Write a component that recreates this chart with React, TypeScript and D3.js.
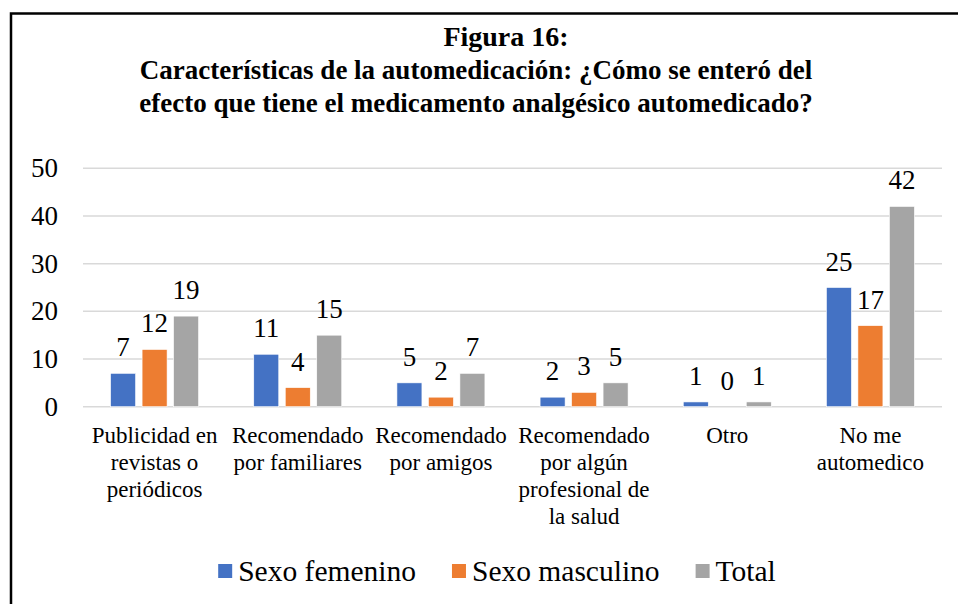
import * as d3 from 'd3';
import React, { useEffect, useRef } from "react";

const categories = [
    'Publicidad en\nrevistas o\nperiódicos',
    'Recomendado\npor familiares',
    'Recomendado\npor amigos',
    'Recomendado\npor algún\nprofesional de\nla salud',
    'Otro',
    'No me\nautomedico',
];
const seriesNames = ['Sexo femenino', 'Sexo masculino', 'Total'];
const femenino = [7, 11, 5, 2, 1, 25];
const masculino = [12, 4, 2, 3, 0, 17];
const total = [19, 15, 7, 5, 1, 42];
const yTicks = [0, 10, 20, 30, 40, 50];
const titleLines = [
    'Figura 16:',
    'Características de la automedicación: ¿Cómo se enteró del',
    'efecto que tiene el medicamento analgésico automedicado?',
];
const colors = ['#4472C4', '#ED7D31', '#A5A5A5'];

const FONT = "Liberation Serif, DejaVu Serif, serif";

const App: React.FC = () => {
    const ref = useRef<SVGSVGElement>(null);

    useEffect(() => {
        if (!ref.current) return;
        const width = 958;
        const height = 604;
        const svg = d3.select(ref.current)
            .attr('width', width)
            .attr('height', height);
        svg.selectAll('*').remove();

        svg.append('rect').attr('width', width).attr('height', height).attr('fill', '#fff');

        // chart border (top + left, the rest is cropped)
        svg.append('path')
            .attr('d', `M11,${height} V13.5 H${width}`)
            .attr('fill', 'none')
            .attr('stroke', '#000')
            .attr('stroke-width', 2.5);

        // title
        const titleX = [506, 476, 476];
        const titleSize = [28, 27, 27];
        svg.append('g').selectAll('text')
            .data(titleLines)
            .enter()
            .append('text')
            .attr('x', (d, i) => titleX[i])
            .attr('y', (d, i) => 46 + i * 33)
            .attr('text-anchor', 'middle')
            .attr('font-size', (d, i) => titleSize[i])
            .attr('font-weight', 'bold')
            .text(d => d);

        const values = [femenino, masculino, total];
        const left = 83, right = 942, top = 168.3, bottom = 406.7;

        const x0 = d3.scaleBand<number>()
            .domain(d3.range(categories.length))
            .range([left, right])
            .padding(0);
        const x1 = d3.scaleBand<number>()
            .domain(d3.range(seriesNames.length))
            .range([0, x0.bandwidth()])
            .paddingInner(0.206)
            .paddingOuter(0.876);
        const y = d3.scaleLinear().domain([0, 50]).range([bottom, top]);

        // gridlines
        svg.append('g').selectAll('line')
            .data(yTicks)
            .enter()
            .append('line')
            .attr('x1', left)
            .attr('x2', right)
            .attr('y1', d => y(d))
            .attr('y2', d => y(d))
            .attr('stroke', '#D9D9D9')
            .attr('stroke-width', 1.5);

        // y tick labels
        svg.append('g').selectAll('text')
            .data(yTicks)
            .enter()
            .append('text')
            .attr('x', 58)
            .attr('y', d => y(d) + 9)
            .attr('text-anchor', 'end')
            .attr('font-size', 27)
            .text(d => d);

        // bars + labels
        values.forEach((vals, s) => {
            const g = svg.append('g');
            g.selectAll('rect')
                .data(vals)
                .enter()
                .append('rect')
                .attr('x', (d, i) => x0(i)! + x1(s)!)
                .attr('y', d => y(d))
                .attr('width', x1.bandwidth())
                .attr('height', d => bottom - y(d))
                .attr('fill', colors[s])
                .attr('stroke', '#fff')
                .attr('stroke-width', 0.6);
            g.selectAll('text')
                .data(vals)
                .enter()
                .append('text')
                .attr('x', (d, i) => x0(i)! + x1(s)! + x1.bandwidth() / 2)
                .attr('y', d => y(d) - 17)
                .attr('text-anchor', 'middle')
                .attr('font-size', 27)
                .text(d => d);
        });

        // category labels
        const cat = svg.append('g').selectAll('text')
            .data(categories)
            .enter()
            .append('text')
            .attr('text-anchor', 'middle')
            .attr('font-size', 23);
        cat.each(function (d, i) {
            const t = d3.select(this);
            d.split('\n').forEach((line, j) => {
                t.append('tspan')
                    .attr('x', x0(i)! + x0.bandwidth() / 2)
                    .attr('y', 443 + j * 27)
                    .text(line);
            });
        });

        // legend
        const legend = svg.append('g');
        const items = legend.selectAll('g')
            .data(seriesNames)
            .enter()
            .append('g');
        items.append('rect')
            .attr('width', 14)
            .attr('height', 14)
            .attr('y', 564)
            .attr('fill', (d, i) => colors[i]);
        items.append('text')
            .attr('x', 20)
            .attr('y', 581)
            .attr('font-size', 29.5)
            .text(d => d);

        svg.selectAll('text').style('font-family', FONT);

        let cx = 0;
        const gap = 36;
        const offsets: number[] = [];
        items.each(function () {
            offsets.push(cx);
            const w = (d3.select(this).select('text').node() as SVGTextElement).getComputedTextLength();
            cx += 20 + w + gap;
        });
        const totalW = cx - gap;
        const start = 497 - totalW / 2;
        items.attr('transform', (d, i) => `translate(${start + offsets[i]},0)`);
    }, []);

    return (
        <svg ref={ref} style={{ position: 'absolute', left: 0, top: 0 }}></svg>
    );
};

export default App;
